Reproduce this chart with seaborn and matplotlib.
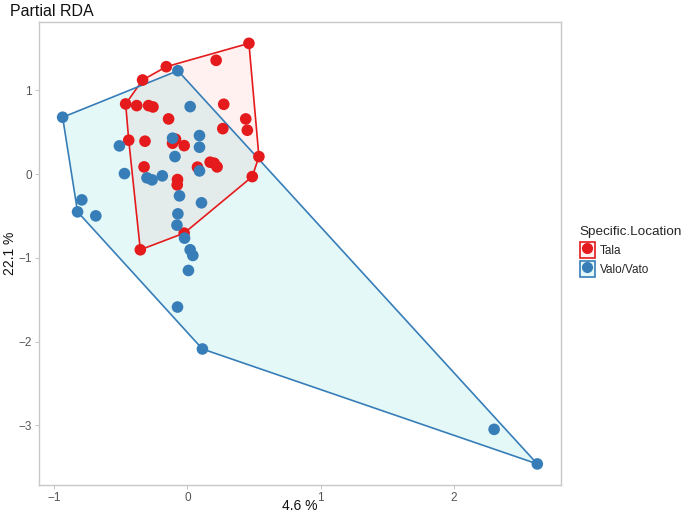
import numpy as np
import pandas as pd
import matplotlib
matplotlib.use('Agg')
import matplotlib.pyplot as plt
import seaborn as sns
from matplotlib.patches import Patch
from matplotlib.lines import Line2D

# RDA scores
tala_x = [0.461, 0.215, -0.159, -0.337, -0.464, -0.381, -0.292, -0.259, -0.142, 0.272,
          0.437, 0.449, 0.265, -0.441, -0.319, -0.112, -0.090, -0.025, -0.326, 0.075,
          0.170, 0.200, 0.222, -0.075, -0.077, 0.536, 0.486, -0.025, -0.354]
tala_y = [1.563, 1.360, 1.284, 1.125, 0.839, 0.819, 0.819, 0.803, 0.660, 0.835,
          0.660, 0.525, 0.544, 0.406, 0.394, 0.370, 0.418, 0.341, 0.087, 0.084,
          0.143, 0.131, 0.087, -0.064, -0.128, 0.210, -0.029, -0.704, -0.903]
valo_x = [-0.937, -0.072, 0.020, -0.511, -0.473, -0.112, 0.090, 0.090, -0.094, 0.090,
          -0.304, -0.266, -0.189, -0.060, 0.105, -0.072, -0.079, -0.022, 0.020, 0.040,
          0.007, -0.075, 0.112, 2.301, 2.625, -0.793, -0.825, -0.688]
valo_y = [0.680, 1.236, 0.807, 0.338, 0.007, 0.430, 0.461, 0.322, 0.210, 0.039,
          -0.044, -0.068, -0.020, -0.259, -0.342, -0.474, -0.609, -0.764, -0.903, -0.971,
          -1.150, -1.587, -2.088, -3.048, -3.461, -0.307, -0.450, -0.498]

groups = ['Tala', 'Valo/Vato']
line_cols = {'Tala': '#E41A1C', 'Valo/Vato': '#377EB8'}
fill_cols = {'Tala': '#F8766D', 'Valo/Vato': '#00BFC4'}

df = pd.DataFrame({
    'RDA1': tala_x + valo_x,
    'RDA2': tala_y + valo_y,
    'Specific.Location': ['Tala'] * len(tala_x) + ['Valo/Vato'] * len(valo_x),
})


def hull(pts):
    pts = sorted(set(pts))
    def cross(o, a, b):
        return (a[0] - o[0]) * (b[1] - o[1]) - (a[1] - o[1]) * (b[0] - o[0])
    lower, upper = [], []
    for p in pts:
        while len(lower) >= 2 and cross(lower[-2], lower[-1], p) <= 0:
            lower.pop()
        lower.append(p)
    for p in reversed(pts):
        while len(upper) >= 2 and cross(upper[-2], upper[-1], p) <= 0:
            upper.pop()
        upper.append(p)
    return lower[:-1] + upper[:-1]


sns.set_style('white')
plt.rcParams['font.family'] = ['Liberation Sans', 'DejaVu Sans']

fig = plt.figure(figsize=(6.85, 5.17), dpi=100)
ax = fig.add_axes([0.057, 0.062, 0.762, 0.895])

for g in groups:
    sub = df[df['Specific.Location'] == g]
    h = np.array(hull(list(zip(sub['RDA1'], sub['RDA2']))))
    ax.fill(h[:, 0], h[:, 1], facecolor=fill_cols[g], alpha=0.1, edgecolor='none', zorder=1)
    ax.fill(h[:, 0], h[:, 1], facecolor='none', edgecolor=line_cols[g], lw=1.2, zorder=2)

sns.scatterplot(data=df, x='RDA1', y='RDA2', hue='Specific.Location', palette=line_cols,
                s=70, edgecolor='none', legend=False, ax=ax, zorder=3)

ax.set_xlim(-1.114, 2.803)
ax.set_ylim(-3.712, 1.815)
ax.set_xticks([-1, 0, 1, 2])
ax.set_yticks([-3, -2, -1, 0, 1])
ax.set_xticklabels(['\u22121', '0', '1', '2'])
ax.set_yticklabels(['\u22123', '\u22122', '\u22121', '0', '1'])
ax.tick_params(axis='both', length=3, width=0.6, color='#bbbbbb', labelcolor='#555555',
               labelsize=8.5, pad=2, bottom=True, left=True)
for sp in ax.spines.values():
    sp.set_color('#c8c8c8')
    sp.set_linewidth(1)
ax.set_xlabel('4.6 %', fontsize=10, color='#111111', va='center')
ax.set_ylabel('22.1 %', fontsize=10, color='#111111', va='center')
ax.xaxis.set_label_coords(0.5, -0.045)
ax.yaxis.set_label_coords(-0.056, 0.5)
fig.text(0.014, 0.978, 'Partial RDA', fontsize=11.5, ha='left', va='center', color='#111111')

handles = []
for g in groups:
    box = Patch(facecolor=matplotlib.colors.to_rgba(fill_cols[g], 0.1),
                edgecolor=line_cols[g], lw=1.2)
    dot = Line2D([], [], marker='o', ls='none', color=line_cols[g], markersize=7)
    handles.append((box, dot))
leg = fig.legend(handles, groups, loc='center left', bbox_to_anchor=(0.846, 0.513),
                 title='Specific.Location', frameon=False, fontsize=8.5,
                 title_fontsize=9.7, handlelength=1.3, handleheight=1.7,
                 handletextpad=0.4, labelspacing=0.3, borderaxespad=0, borderpad=0)
leg._legend_box.align = 'left'

fig.savefig('out.png', dpi=100)
